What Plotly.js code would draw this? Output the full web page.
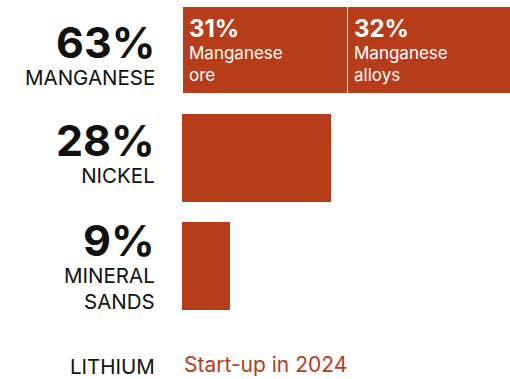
<!DOCTYPE html>
<html><head><meta charset="utf-8">
<script src="https://cdn.plot.ly/plotly-3.0.1.min.js"></script>
<style>html,body{margin:0;padding:0;background:#fff}#chart{width:510px;height:379px}</style>
</head><body><div id="chart"></div>
<script>
const categories = ['Manganese', 'Nickel', 'Mineral sands', 'Lithium'];
const categoryLabels = ['MANGANESE', 'NICKEL', 'MINERAL<br>SANDS', 'LITHIUM'];
const totals = ['63%', '28%', '9%', ''];
const manganeseParts = ['Manganese<br>ore', 'Manganese<br>alloys'];
const manganeseValues = [31, 32];
const otherCats = ['Nickel', 'Mineral sands'];
const otherValues = [28, 9];
const lithiumNote = 'Start-up in 2024';

const RED = '#b73c1a';
const FONT = 'Inter, "Open Sans", sans-serif';

const traces = [
  {type:'bar', orientation:'h', x:[manganeseValues[0]], y:['Manganese'], marker:{color:RED, line:{color:'#fff', width:1.5}}},
  {type:'bar', orientation:'h', x:[manganeseValues[1]], y:['Manganese'], marker:{color:RED, line:{color:'#fff', width:1.5}}},
  {type:'bar', orientation:'h', x:otherValues, y:otherCats, marker:{color:RED, line:{width:0}}},
  {type:'bar', orientation:'h', x:[0], y:['Lithium'], marker:{color:RED, line:{width:0}}}
];

const labelShift = [-3, 7.5, 2.5, 8];
const annotations = [];
categories.forEach((c, i) => {
  const txt = totals[i] ? '<span style="font-size:43px"><b>' + totals[i] + '</b></span><br>' + categoryLabels[i] : categoryLabels[i];
  annotations.push({xref:'paper', yref:'y', x:0, y:c, xshift:-25, yshift:labelShift[i], xanchor:'right', yanchor:'middle', showarrow:false, align:'right', text:txt, font:{family:FONT, size:20.5, color:'#111'}});
});
let cum = 0;
manganeseValues.forEach((v, i) => {
  annotations.push({xref:'x', yref:'y', x:cum, y:'Manganese', xshift:5, yshift:1, xanchor:'left', yanchor:'middle', showarrow:false, align:'left', text:'<span style="font-size:24px"><b>' + v + '%</b></span><br>' + manganeseParts[i], font:{family:FONT, size:17, color:'#fff'}});
  cum += v;
});
annotations.push({xref:'paper', yref:'y', x:0, y:'Lithium', xshift:0, yshift:10, xanchor:'left', yanchor:'middle', showarrow:false, text:lithiumNote, font:{family:FONT, size:21, color:RED}});

const layout = {
  width:510, height:379,
  margin:{l:182, r:0, t:0, b:0},
  paper_bgcolor:'#fff', plot_bgcolor:'#fff',
  barmode:'stack', bargap:0.185, showlegend:false,
  xaxis:{range:[0, 61.5], visible:false, fixedrange:true},
  yaxis:{type:'category', categoryorder:'array', categoryarray:categories, range:[3.046, -0.463], visible:false, fixedrange:true},
  annotations:annotations
};
Plotly.newPlot('chart', traces, layout, {staticPlot:true, displayModeBar:false});
</script></body></html>
